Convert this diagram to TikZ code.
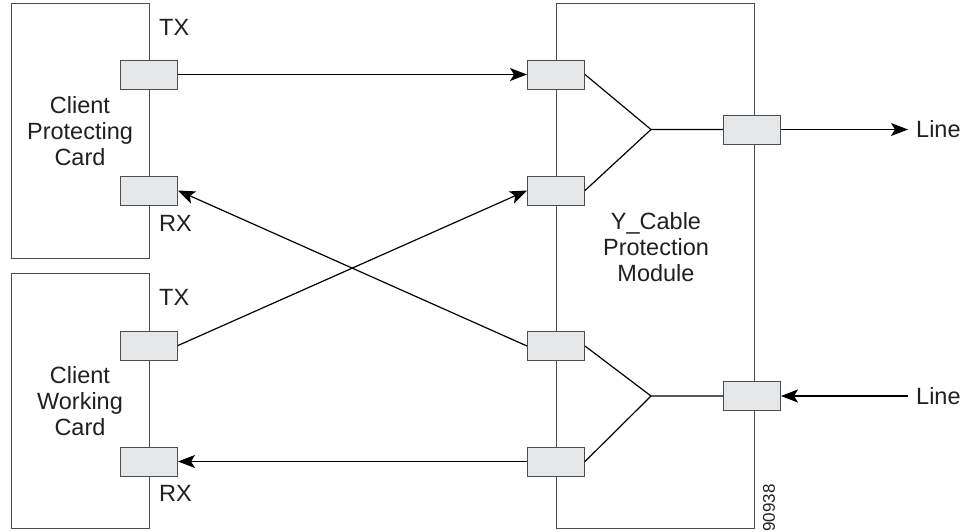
\documentclass[tikz,border=0pt]{standalone}
\usepackage{fontspec}
\setmainfont{Liberation Sans}
\usetikzlibrary{arrows.meta}
\definecolor{portfill}{HTML}{E6E7E8}
\definecolor{edge}{HTML}{4D4D4D}
\definecolor{ink}{HTML}{231F20}
\begin{document}
\begin{tikzpicture}[x=1pt,y=-1pt,
  card/.style={draw=edge,line width=1pt,fill=white},
  port/.style={draw=edge,line width=1pt,fill=portfill,minimum width=57pt,minimum height=29pt,inner sep=0pt},
  lbl/.style={text=ink,font=\fontsize{23.5}{26}\selectfont,align=center,inner sep=0pt},
  conn/.style={draw=black,line width=1.2pt},
  arr/.style={conn,-{Stealth[length=17pt,width=13pt,inset=4pt]}}]
\useasboundingbox (0,0) rectangle (964,531);
% cards
\draw[card] (11,3) rectangle (149,258);
\draw[card] (11,273) rectangle (149,528);
\draw[card] (556,3) rectangle (754,528);
% card texts
\node[lbl] (cpc) at (80,131) {Client\\Protecting\\Card};
\node[lbl] (cwc) at (80,401) {Client\\Working\\Card};
\node[lbl] (ycp) at (656,247) {Y\_Cable\\Protection\\Module};
\node[lbl,anchor=west] (tx1) at (159,27) {TX};
\node[lbl,anchor=west] (rx1) at (159,223) {RX};
\node[lbl,anchor=west] (tx2) at (159,297) {TX};
\node[lbl,anchor=west] (rx2) at (159,493) {RX};
% ports
\node[port] (ptx) at (149,74.5) {};
\node[port] (prx) at (149,190.5) {};
\node[port] (wtx) at (149,345.5) {};
\node[port] (wrx) at (149,461.5) {};
\node[port] (m1) at (556,74.5) {};
\node[port] (m2) at (556,190.5) {};
\node[port] (m3) at (556,346) {};
\node[port] (m4) at (556,461.5) {};
\node[port] (lo) at (752,129.5) {};
\node[port] (li) at (752,396) {};
% junctions
\coordinate (j1) at (651,129.5);
\coordinate (j2) at (651,396);
% line ends
\coordinate (lend1) at (908,129.5);
\coordinate (lend2) at (908,396);
\node[lbl,anchor=west] (line1) at (916,129.5) {Line};
\node[lbl,anchor=west] (line2) at (916,396) {Line};
% connectors
\draw[arr] (ptx.east) -- (m1.west);
\draw[arr] (wtx.east) -- (m2.west);
\draw[arr] (m3.west) -- (prx.east);
\draw[arr] (m4.west) -- (wrx.east);
\draw[conn] (m1.east) -- (j1) -- (lo.west);
\draw[conn] (m2.east) -- (j1);
\draw[conn] (m3.east) -- (j2) -- (li.west);
\draw[conn] (m4.east) -- (j2);
\draw[arr] (lo.east) -- (lend1);
\draw[arr] (lend2) -- (li.east);
% figure number
\node[text=ink,font=\fontsize{17}{17}\selectfont,rotate=90,inner sep=0pt] (fig) at (769,508) {90938};
\end{tikzpicture}
\end{document}
